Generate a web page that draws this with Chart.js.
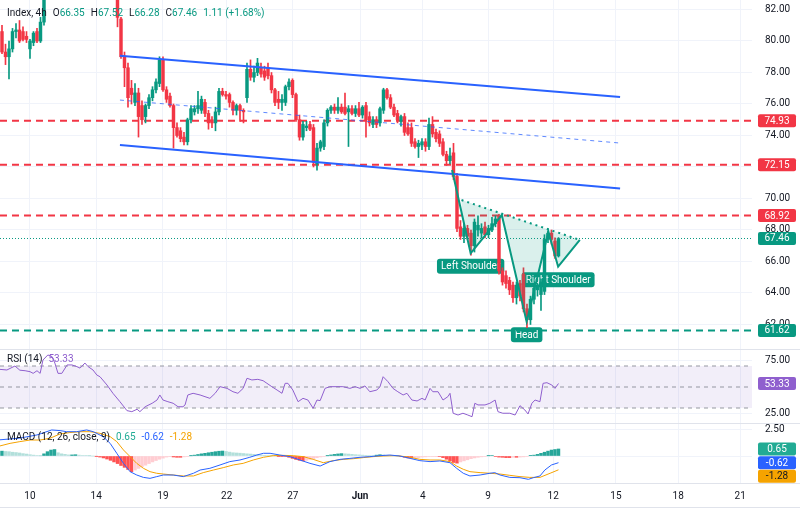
<!DOCTYPE html>
<html>
<head>
<meta charset="utf-8">
<title>Index 4h</title>
<script src="https://cdn.jsdelivr.net/npm/chart.js@4.4.1/dist/chart.umd.min.js"></script>
<style>
  html, body { margin: 0; padding: 0; background: #fff; }
  body { position: relative; width: 800px; height: 515px; overflow: hidden; font-family: Roboto, "Noto Sans", sans-serif; }
  canvas { position: absolute; left: 0; }
  #cvMain { top: 0; }
  #cvRsi { top: 350px; }
  #cvMacd { top: 424px; }
  .sep { position: absolute; left: 0; width: 800px; height: 1px; background: #e0e3eb; }
  .leg { position: absolute; left: 7px; font-size: 10px; line-height: 12px; color: #131722; white-space: pre; }
  .leg span { margin-left: 6px; }
  .leg span:first-child { margin-left: 0; }
  .up { color: #089981; }
</style>
</head>
<body>
<canvas id="cvMain" width="800" height="349"></canvas>
<canvas id="cvRsi" width="800" height="73"></canvas>
<canvas id="cvMacd" width="800" height="91"></canvas>
<div class="sep" style="top:349px"></div>
<div class="sep" style="top:423px"></div>
<div class="sep" style="top:483px"></div>
<div class="sep" style="top:507px"></div>

<div class="leg" style="top:7px"><span>Index, 4h</span><span>O<i class="up" style="font-style:normal">66.35</i></span><span>H<i class="up" style="font-style:normal">67.52</i></span><span>L<i class="up" style="font-style:normal">66.28</i></span><span>C<i class="up" style="font-style:normal">67.46</i></span><span class="up">1.11 (+1.68%)</span></div>
<div class="leg" style="top:353px"><span>RSI (14)</span><span style="color:#8f5fce">53.33</span></div>
<div class="leg" style="top:431px"><span>MACD (12, 26, close, 9)</span><span style="color:#22ab94">0.65</span><span style="color:#2962ff">-0.62</span><span style="color:#f5a300">-1.28</span></div>

<script>
// x axis is in bar units (4h candles), 3.5px per bar
const X_MIN = -0.57, X_MAX = 214.29;
const tickBars = [8, 26.9, 46, 64.2, 83.1, 102.3, 120.2, 138.9, 157.5, 175.4, 193.2, 210.9];
const tickLabels = ['10', '14', '19', '22', '27', 'Jun', '4', '9', '12', '15', '18', '21'];

// candles
const opens = [
  80.6, 79.3, 79.0, 79.5, 80.6, 80.7, 80.6, 80.3, 79.5, 79.9,
  80.6, 80.0, 81.2, 83.3, 84.0, 84.5, 84.1, 83.8, 84.0, 84.5,
  84.3, 84.0, 84.2, 84.6, 84.4, 84.1, 84.3, 83.9, 83.6, 83.8,
  83.5, 83.3, 83.7, 83.9, 81.4, 79.0, 78.3, 77.0, 76.1, 76.7,
  75.9, 75.2, 75.9, 76.4, 76.9, 77.3, 78.8, 76.9, 76.5, 75.9,
  74.5, 74.3, 73.9, 73.6, 75.0, 75.5, 75.7, 75.6, 76.1, 75.4,
  75.0, 74.8, 75.5, 76.8, 76.6, 76.6, 76.1, 75.6, 75.9, 75.6,
  76.4, 78.2, 77.7, 78.0, 78.3, 78.1, 78.3, 77.8, 76.9, 76.3,
  76.1, 76.1, 77.1, 77.5, 76.6, 75.0, 73.9, 74.5, 74.7, 74.5,
  72.2, 73.2, 73.3, 74.8, 75.6, 75.8, 75.6, 75.8, 75.8, 75.5,
  75.7, 75.4, 75.7, 75.3, 75.9, 75.2, 74.7, 75.0, 74.8, 75.6,
  76.9, 76.4, 75.8, 75.4, 74.9, 75.2, 74.5, 74.5, 73.6, 73.3,
  73.4, 73.6, 73.3, 74.7, 74.2, 74.1, 73.6, 72.8, 72.4, 72.9,
  71.4, 68.2, 67.6, 68.1, 67.8, 67.0, 68.0, 67.8, 68.2, 67.7,
  68.0, 68.4, 68.9, 65.4, 65.1, 64.8, 64.5, 63.7, 64.6, 65.2,
  63.0, 62.3, 63.6, 64.2, 63.9, 64.1, 67.4, 67.8, 67.3, 66.35
];
const highs = [
  81.0, 79.8, 80.0, 80.8, 81.1, 81.3, 80.9, 80.6, 80.1, 80.6,
  80.8, 81.5, 83.6, 84.2, 84.8, 84.9, 84.4, 84.3, 84.7, 84.9,
  84.6, 84.4, 84.8, 85.0, 84.7, 84.5, 84.6, 84.2, 84.0, 84.1,
  83.8, 83.9, 84.3, 84.2, 81.5, 79.3, 78.6, 77.5, 77.3, 77.0,
  76.2, 76.0, 76.6, 77.1, 77.6, 79.0, 79.0, 77.1, 76.7, 76.0,
  74.8, 74.5, 74.2, 75.1, 75.9, 75.9, 76.8, 76.5, 76.3, 75.6,
  75.2, 75.8, 77.0, 77.0, 76.8, 76.7, 76.2, 76.0, 76.0, 75.7,
  78.6, 78.8, 78.4, 78.9, 78.6, 78.4, 78.6, 78.0, 77.0, 76.8,
  76.6, 77.2, 77.6, 77.6, 76.7, 75.3, 74.9, 74.9, 74.9, 74.7,
  73.5, 73.7, 75.0, 75.7, 75.9, 76.0, 76.4, 76.0, 76.7, 75.9,
  75.9, 75.9, 76.1, 75.9, 76.1, 75.5, 75.2, 75.2, 75.8, 77.0,
  77.0, 76.6, 76.0, 75.6, 75.3, 75.4, 74.8, 74.8, 73.8, 73.7,
  73.8, 73.8, 75.1, 75.2, 74.4, 74.3, 73.8, 73.0, 73.2, 73.5,
  71.6, 68.6, 68.4, 68.3, 68.0, 68.7, 68.9, 68.4, 68.5, 68.3,
  68.8, 68.9, 69.0, 65.6, 65.4, 65.0, 64.7, 64.7, 64.8, 65.6,
  63.3, 63.8, 64.4, 64.6, 64.9, 67.7, 67.95, 68.0, 67.5, 67.52
];
const lows = [
  79.2, 78.5, 77.6, 79.3, 80.2, 79.9, 80.0, 79.9, 78.9, 79.7,
  79.9, 79.9, 81.0, 83.1, 83.7, 83.9, 83.5, 83.4, 83.8, 84.1,
  83.8, 83.6, 84.0, 84.2, 83.9, 83.7, 83.8, 83.4, 83.3, 83.4,
  83.1, 83.2, 83.4, 80.9, 78.9, 77.1, 75.8, 76.0, 75.9, 73.9,
  74.7, 74.8, 75.7, 76.2, 76.7, 77.1, 76.8, 76.1, 75.8, 73.2,
  73.9, 73.6, 73.4, 73.4, 74.8, 75.3, 75.4, 75.4, 75.2, 74.4,
  74.5, 74.3, 75.3, 76.5, 76.3, 75.8, 75.3, 75.3, 74.9, 74.8,
  76.1, 77.5, 77.4, 77.8, 77.7, 77.5, 77.6, 76.7, 75.9, 75.7,
  75.6, 75.9, 76.9, 76.4, 74.9, 73.7, 73.7, 74.3, 74.3, 72.0,
  71.8, 73.0, 73.1, 74.6, 75.4, 75.4, 75.4, 75.4, 75.3, 73.3,
  75.3, 75.2, 75.2, 75.1, 73.9, 74.6, 74.5, 74.5, 74.6, 75.4,
  76.3, 75.7, 75.2, 74.8, 74.6, 74.0, 74.0, 73.3, 73.2, 72.6,
  73.1, 73.0, 73.1, 73.9, 73.6, 73.3, 72.7, 72.1, 72.2, 71.2,
  67.9, 67.4, 67.2, 67.4, 66.4, 66.6, 67.6, 67.5, 67.5, 67.5,
  67.9, 68.2, 65.2, 64.5, 64.3, 63.9, 63.4, 63.3, 63.5, 62.8,
  61.8, 62.0, 63.3, 63.8, 62.9, 63.9, 67.2, 67.1, 66.2, 66.28
];
const closes = [
  79.3, 79.0, 79.5, 80.6, 80.7, 80.0, 80.1, 80.1, 80.0, 80.5,
  80.0, 81.2, 83.3, 84.0, 84.5, 84.1, 83.8, 84.0, 84.5, 84.3,
  84.0, 84.2, 84.6, 84.4, 84.1, 84.3, 83.9, 83.6, 83.8, 83.5,
  83.3, 83.7, 84.0, 81.5, 79.0, 78.3, 76.4, 76.6, 76.7, 75.2,
  75.0, 75.9, 76.4, 76.9, 77.4, 78.8, 76.9, 76.3, 75.9, 74.5,
  74.0, 73.8, 73.6, 75.0, 75.7, 75.7, 75.9, 76.3, 75.4, 74.8,
  74.8, 75.5, 76.8, 76.6, 76.5, 76.1, 75.6, 75.9, 75.6, 75.5,
  78.2, 77.7, 78.0, 78.6, 77.9, 77.7, 77.8, 76.9, 76.1, 76.1,
  76.3, 77.1, 77.4, 76.6, 75.0, 73.9, 74.7, 74.6, 74.4, 72.3,
  73.2, 73.6, 74.8, 75.6, 75.8, 75.6, 75.8, 75.5, 75.4, 75.7,
  75.4, 75.7, 75.3, 75.8, 75.0, 74.8, 75.0, 74.7, 75.7, 76.9,
  76.4, 75.8, 75.3, 75.0, 75.2, 74.2, 74.1, 73.5, 73.3, 73.5,
  73.6, 73.3, 74.7, 74.1, 73.8, 73.5, 72.8, 72.4, 72.7, 71.4,
  68.1, 67.6, 68.1, 67.6, 67.0, 68.5, 68.3, 68.1, 67.7, 68.1,
  68.4, 68.7, 65.4, 64.7, 64.6, 64.2, 63.7, 64.5, 63.8, 63.0,
  62.3, 63.6, 64.3, 64.5, 64.7, 67.4, 67.8, 67.4, 66.35, 67.46
];

// drawings on the price pane
const redLevels = [74.93, 72.15, 68.92];
const greenLevel = 61.62;
const lastPrice = 67.46;
const channelBars = [33.7, 176.6];
const channelUpper = [79.07, 76.44];
const channelMid = [76.25, 73.52];
const channelLower = [73.40, 70.63];
const patternBars = [128.6, 133.9, 142.8, 149.9, 156.1, 158.9, 165.1];
const patternPrices = [71.81, 66.52, 68.95, 62.18, 67.89, 65.67, 67.37];
const patternNames = ['', 'Left Shoulder', '', 'Head', '', 'Right Shoulder', ''];
const necklineBars = [131.3, 165.1];
const necklinePrices = [69.90, 67.37];
const priceTicks = [62, 64, 66, 68, 70, 72, 74, 76, 78, 80, 82];

// RSI (14)
const rsiBars = [-0.6, 1.4, 3.7, 5.1, 6.6, 8.0, 8.9, 10.0, 10.9, 11.7, 13.1, 14.3, 15.1, 16.0, 17.1, 18.6, 20.0, 21.4, 22.3, 23.7,
  24.6, 26.0, 27.1, 28.0, 30.0, 31.7, 33.7, 35.7, 37.1, 38.6, 39.4, 40.9, 42.9, 44.3, 45.1, 46.0, 47.4, 48.9, 50.3, 51.7,
  52.3, 53.1, 54.6, 56.6, 58.0, 59.4, 60.9, 62.3, 64.3, 66.0, 67.4, 68.9, 70.0, 71.4, 73.1, 74.6, 75.7, 77.1, 78.6, 80.0,
  80.9, 81.7, 83.1, 84.6, 86.0, 87.4, 88.9, 90.0, 90.9, 92.3, 93.7, 95.7, 97.4, 99.4, 100.9, 102.3, 103.7, 105.1, 107.1, 108.0,
  108.9, 110.3, 111.7, 113.1, 114.6, 115.7, 117.1, 118.6, 120.0, 120.9, 122.3, 123.1, 124.6, 126.0, 127.4, 128.0, 128.9, 130.3, 131.7, 133.1,
  134.3, 135.1, 136.0, 138.0, 139.4, 140.9, 141.7, 143.1, 145.1, 146.6, 148.0, 149.4, 150.3, 151.4, 152.3, 153.7, 154.6, 155.7, 157.1, 158.0,
  159.0];
const rsiVals = [66.8, 66.2, 70.0, 66.0, 65.5, 64.6, 63.0, 65.5, 63.0, 75.7, 80.5, 79.0, 72.8, 63.0, 63.0, 71.0, 71.0, 69.4, 68.0, 72.8,
  69.4, 66.2, 61.4, 59.8, 51.9, 44.0, 36.0, 27.5, 26.5, 28.8, 26.5, 31.2, 34.5, 37.6, 42.4, 37.6, 36.0, 34.5, 31.2, 31.2,
  32.9, 42.4, 44.0, 42.4, 40.8, 39.2, 44.0, 50.3, 48.7, 45.5, 44.0, 48.7, 58.3, 56.7, 57.3, 56.0, 53.5, 50.3, 47.1, 44.0,
  53.5, 53.5, 47.1, 36.0, 39.2, 37.6, 29.7, 37.6, 37.0, 48.7, 50.3, 50.3, 50.3, 48.7, 50.3, 48.7, 51.0, 45.5, 47.1, 50.3,
  59.8, 55.0, 48.7, 45.5, 42.4, 44.0, 37.6, 36.7, 39.2, 37.6, 48.7, 45.5, 45.5, 37.6, 40.8, 44.0, 25.0, 23.3, 25.0, 23.3,
  21.7, 34.5, 32.9, 32.9, 34.5, 37.6, 26.5, 25.0, 25.0, 23.3, 32.2, 28.1, 24.3, 34.5, 37.6, 36.0, 53.5, 54.1, 51.9, 48.7,
  53.33];
const rsiLevels = [70, 50, 30];
const rsiTicks = [25, 75];

// MACD (12, 26, close, 9)
const macdBars = [-0.6, 5, 10, 14.2, 16.6, 18.5, 21.3, 24.2, 26.1, 28.9, 30.9, 32.8, 34.7, 36.6, 38.5, 40.4, 42.3, 44.2, 46.1, 48.9,
  51.8, 54.7, 56.6, 59.4, 62.3, 65.1, 68.0, 70.8, 72.8, 74.7, 76.6, 79.4, 82.3, 85.1, 88.0, 90.9, 93.7, 96.6, 99.4, 102.3,
  105.1, 108.0, 110.8, 113.7, 116.6, 119.4, 122.3, 125.1, 128.0, 129.9, 131.8, 133.7, 136.6, 139.4, 140.8, 142.3, 145.1, 148.0, 150.4, 151.8,
  153.7, 155.1, 157.0, 159.0];
const macdVals = [1.50, 1.65, 1.95, 2.41, 2.35, 2.25, 2.25, 2.41, 2.25, 1.79, 1.17, 0.25, -0.68, -1.45, -1.76, -1.98, -2.07, -1.91, -1.76, -1.76,
  -1.91, -1.60, -1.30, -1.14, -0.83, -0.52, -0.37, -0.12, 0.09, 0.25, 0.25, 0.09, -0.06, -0.37, -0.68, -0.93, -0.52, -0.31, -0.22, -0.12,
  -0.06, 0.03, 0.09, 0.00, -0.22, -0.43, -0.52, -0.46, -0.62, -1.14, -1.60, -1.85, -1.76, -1.60, -1.54, -1.76, -1.98, -2.01, -2.16, -2.01,
  -1.85, -1.30, -0.83, -0.62];
const signalBars = [-0.6, 2.3, 5.1, 8.0, 10.9, 13.7, 16.6, 19.4, 22.3, 25.1, 28.0, 30.9, 32.8, 34.7, 36.6, 38.5, 40.4, 42.3, 44.2, 46.1,
  48.9, 51.8, 54.7, 57.5, 60.4, 63.2, 66.1, 68.9, 71.8, 74.7, 77.5, 80.4, 83.2, 86.1, 88.9, 91.8, 94.7, 97.5, 100.4, 103.2,
  106.1, 108.9, 111.8, 113.7, 116.6, 119.4, 122.3, 125.1, 128.0, 129.9, 131.8, 133.7, 136.6, 139.4, 142.3, 145.1, 148.0, 150.8, 153.7, 156.6,
  159.0];
const signalVals = [0.93, 1.17, 1.33, 1.48, 1.48, 1.64, 2.04, 2.17, 2.25, 2.25, 2.10, 1.79, 1.33, 0.56, -0.06, -0.68, -1.14, -1.45, -1.60, -1.67,
  -1.76, -1.85, -1.85, -1.54, -1.30, -1.08, -0.83, -0.68, -0.37, -0.12, 0.03, 0.06, 0.03, -0.06, -0.31, -0.62, -0.43, -0.31, -0.25, -0.15,
  -0.06, 0.00, 0.03, 0.00, -0.12, -0.31, -0.37, -0.37, -0.52, -0.93, -1.23, -1.45, -1.54, -1.60, -1.67, -1.79, -1.91, -1.98, -1.98, -1.60,
  -1.28];
const histVals = [
  0.45, 0.42, 0.40, 0.35, 0.32, 0.28, 0.22, 0.18, 0.12, 0.08,
  0.05, 0.02, 0.20, 0.40, 0.55, 0.60, 0.30, 0.20, 0.15, 0.10,
  0.10, 0.12, 0.08, 0.05, 0.04, 0.02, 0.00, -0.02, -0.10, -0.18,
  -0.28, -0.40, -0.55, -0.70, -0.88, -1.05, -1.25, -1.45, -1.30, -1.15,
  -1.00, -0.85, -0.70, -0.55, -0.42, -0.30, -0.20, -0.10, -0.06, -0.09,
  -0.12, -0.12, -0.08, -0.04, 0.02, 0.08, 0.14, 0.20, 0.25, 0.30,
  0.35, 0.40, 0.44, 0.46, 0.42, 0.36, 0.30, 0.28, 0.26, 0.23,
  0.20, 0.18, 0.15, 0.12, 0.09, 0.06, 0.04, 0.03, 0.01, -0.01,
  -0.03, -0.05, -0.12, -0.22, -0.32, -0.40, -0.45, -0.40, -0.32, -0.24,
  -0.16, -0.09, -0.04, 0.02, 0.10, 0.15, 0.19, 0.22, 0.20, 0.18,
  0.15, 0.12, 0.10, 0.08, 0.06, 0.05, 0.04, 0.08, 0.12, 0.10,
  0.06, 0.03, 0.02, 0.01, -0.05, -0.12, -0.18, -0.20, -0.18, -0.15,
  -0.10, -0.08, -0.05, -0.04, -0.03, -0.05, -0.15, -0.30, -0.45, -0.60,
  -0.66, -0.55, -0.45, -0.35, -0.25, -0.18, -0.12, -0.08, -0.04, 0.02,
  0.05, -0.05, -0.10, -0.12, -0.15, -0.15, -0.12, -0.12, -0.10, -0.08,
  -0.05, 0.03, 0.08, 0.15, 0.25, 0.35, 0.45, 0.55, 0.60, 0.65
];
const macdTicks = [2.5, 0];

const GREEN = '#089981', RED = '#F23645', BLUE = '#2962FF', ORANGE = '#f5a300', PURPLE = '#8f5fce';
const GRID = '#f0f3fa', TXT = '#131722';

Chart.defaults.font.family = 'Roboto, "Noto Sans", sans-serif';
Chart.defaults.font.size = 10;
Chart.defaults.color = TXT;

function lineDs(xs, ys, color, width, dash, order, extra) {
  return Object.assign({
    type: 'line',
    data: xs.map((x, i) => ({ x: x, y: ys[i] })),
    borderColor: color, borderWidth: width, borderDash: dash || [],
    pointRadius: 0, tension: 0, fill: false, order: order
  }, extra || {});
}

function xScale(showLabels) {
  return {
    type: 'linear', min: X_MIN, max: X_MAX, offset: false,
    grid: { color: GRID, drawTicks: false, offset: false },
    border: { display: false },
    afterBuildTicks: s => { s.ticks = tickBars.map(v => ({ value: v })); },
    ticks: {
      display: showLabels, autoSkip: false, maxRotation: 0, padding: 7, color: TXT,
      callback: (v, i) => tickLabels[i],
      font: c => ({ size: 10, weight: tickLabels[c.index] === 'Jun' ? 'bold' : 'normal' })
    },
    afterFit: s => { s.height = showLabels ? 32 : 0; s.paddingLeft = 0; s.paddingRight = 0; }
  };
}

function yScale(min, max, ticks, fmt) {
  return {
    type: 'linear', position: 'right', min: min, max: max, beginAtZero: false,
    grid: { color: GRID, drawTicks: false },
    border: { display: false },
    afterBuildTicks: s => { s.ticks = ticks.map(v => ({ value: v })); },
    ticks: { padding: 13, color: TXT, font: { size: 10 }, callback: fmt },
    afterFit: s => { s.width = 48; s.paddingTop = 0; s.paddingBottom = 0; }
  };
}

// coloured value tags on the right scale
const tagPlugin = {
  id: 'tags',
  afterDraw(chart, args, opts) {
    const ctx = chart.ctx, y = chart.scales.y, area = chart.chartArea;
    const items = (opts.items || []).map(t => Object.assign({}, t, { py: y.getPixelForValue(t.value) }))
      .sort((a, b) => a.py - b.py);
    for (let k = 1; k < items.length; k++) {
      if (items[k].py - items[k - 1].py < 13.5) items[k].py = items[k - 1].py + 13.5;
    }
    ctx.save();
    ctx.font = '10px Roboto, "Noto Sans", sans-serif';
    ctx.textAlign = 'center';
    ctx.textBaseline = 'middle';
    items.forEach(t => {
      ctx.fillStyle = t.bg;
      ctx.beginPath();
      ctx.roundRect(area.right + 6, t.py - 6.5, 38, 13, 2);
      ctx.fill();
      ctx.fillStyle = t.fg || '#fff';
      ctx.fillText(t.value.toFixed(2), area.right + 25, t.py + 0.5);
    });
    ctx.restore();
  }
};

// head & shoulders labels, drawn under the candles
const labelPlugin = {
  id: 'patternLabels',
  beforeDatasetsDraw(chart, args, opts) {
    const ctx = chart.ctx, xs = chart.scales.x, ys = chart.scales.y;
    ctx.save();
    ctx.font = '10px Roboto, "Noto Sans", sans-serif';
    ctx.textAlign = 'center';
    ctx.textBaseline = 'middle';
    (opts.items || []).forEach(it => {
      const px = xs.getPixelForValue(it.x), py = ys.getPixelForValue(it.y) + 13;
      const w = ctx.measureText(it.text).width + 8, h = 15;
      ctx.fillStyle = GREEN;
      ctx.beginPath();
      ctx.roundRect(px - w / 2, py - h / 2, w, h, 3);
      ctx.fill();
      ctx.fillStyle = '#fff';
      ctx.fillText(it.text, px, py + 0.5);
    });
    ctx.restore();
  }
};

const baseOpts = {
  responsive: false, animation: false, events: [], devicePixelRatio: 1,
  layout: { padding: 0 }
};

// ---- price pane ----
const idx = closes.map((c, i) => i);
const candleColors = idx.map(i => closes[i] >= opens[i] ? GREEN : RED);
const labelItems = [];
patternNames.forEach((n, i) => { if (n) labelItems.push({ x: patternBars[i], y: patternPrices[i], text: n }); });

const priceSets = [
  lineDs(patternBars, patternPrices, GREEN, 2, null, 1, { fill: 1, backgroundColor: 'rgba(8,153,129,0.15)' }),
  lineDs(necklineBars, necklinePrices, GREEN, 2, [2, 4], 2),
  lineDs(channelBars, channelUpper, BLUE, 2, null, 3),
  lineDs(channelBars, channelLower, BLUE, 2, null, 3),
  lineDs(channelBars, channelMid, 'rgba(41,98,255,0.75)', 1, [4, 4], 3),
  {
    type: 'bar', data: idx.map(i => ({ x: i, y: [opens[i], closes[i]] })),
    backgroundColor: candleColors, barThickness: 2.8, minBarLength: 1, grouped: false, order: 4
  },
  {
    type: 'bar', data: idx.map(i => ({ x: i, y: [lows[i], highs[i]] })),
    backgroundColor: candleColors, barThickness: 1, grouped: false, order: 5
  }
];
redLevels.forEach(v => priceSets.push(lineDs([X_MIN, X_MAX], [v, v], RED, 2, [7, 5], 6)));
priceSets.push(lineDs([X_MIN, X_MAX], [greenLevel, greenLevel], GREEN, 2, [7, 5], 6));
priceSets.push(lineDs([X_MIN, X_MAX], [lastPrice, lastPrice], GREEN, 1, [1, 2], 6));

const priceTags = redLevels.map(v => ({ value: v, bg: RED }))
  .concat([{ value: lastPrice, bg: GREEN }, { value: greenLevel, bg: GREEN }]);

new Chart(document.getElementById('cvMain'), {
  type: 'bar',
  data: { datasets: priceSets },
  options: Object.assign({}, baseOpts, {
    plugins: { legend: { display: false }, tooltip: { enabled: false },
      tags: { items: priceTags }, patternLabels: { items: labelItems } },
    scales: { x: xScale(false), y: yScale(60.444, 82.603, priceTicks, v => v.toFixed(2)) }
  }),
  plugins: [tagPlugin, labelPlugin]
});

// ---- RSI pane ----
const rsiSets = [lineDs(rsiBars, rsiVals, PURPLE, 1, null, 1)];
rsiLevels.forEach((lv, k) => {
  const extra = k === rsiLevels.length - 1 ? { fill: 1, backgroundColor: 'rgba(126,87,194,0.1)' } : {};
  rsiSets.push(lineDs([X_MIN, X_MAX], [lv, lv], '#9598a1', 1, [4, 4], 2, extra));
});

new Chart(document.getElementById('cvRsi'), {
  type: 'line',
  data: { datasets: rsiSets },
  options: Object.assign({}, baseOpts, {
    plugins: { legend: { display: false }, tooltip: { enabled: false },
      tags: { items: [{ value: 53.33, bg: PURPLE }] } },
    scales: { x: xScale(false), y: yScale(15.71, 85.24, rsiTicks, v => v.toFixed(2)) }
  }),
  plugins: [tagPlugin]
});

// ---- MACD pane ----
const histColors = histVals.map((v, i) => {
  const prev = i > 0 ? histVals[i - 1] : v;
  if (v >= 0) return v >= prev ? '#26a69a' : '#b2dfdb';
  return v <= prev ? '#ff5252' : '#ffcdd2';
});

new Chart(document.getElementById('cvMacd'), {
  type: 'bar',
  data: { datasets: [
    lineDs(macdBars, macdVals, BLUE, 1, null, 1),
    lineDs(signalBars, signalVals, ORANGE, 1, null, 2),
    { type: 'bar', data: histVals.map((v, i) => ({ x: i, y: v })), backgroundColor: histColors,
      barThickness: 2.8, grouped: false, order: 3 }
  ] },
  options: Object.assign({}, baseOpts, {
    plugins: { legend: { display: false }, tooltip: { enabled: false },
      tags: { items: [
        { value: 0.65, bg: '#22ab94' },
        { value: -0.62, bg: BLUE },
        { value: -1.28, bg: ORANGE, fg: TXT }
      ] } },
    scales: { x: xScale(true), y: yScale(-2.5, 2.963, macdTicks, v => v === 0 ? '' : v.toFixed(2)) }
  }),
  plugins: [tagPlugin]
});
</script>
</body>
</html>
